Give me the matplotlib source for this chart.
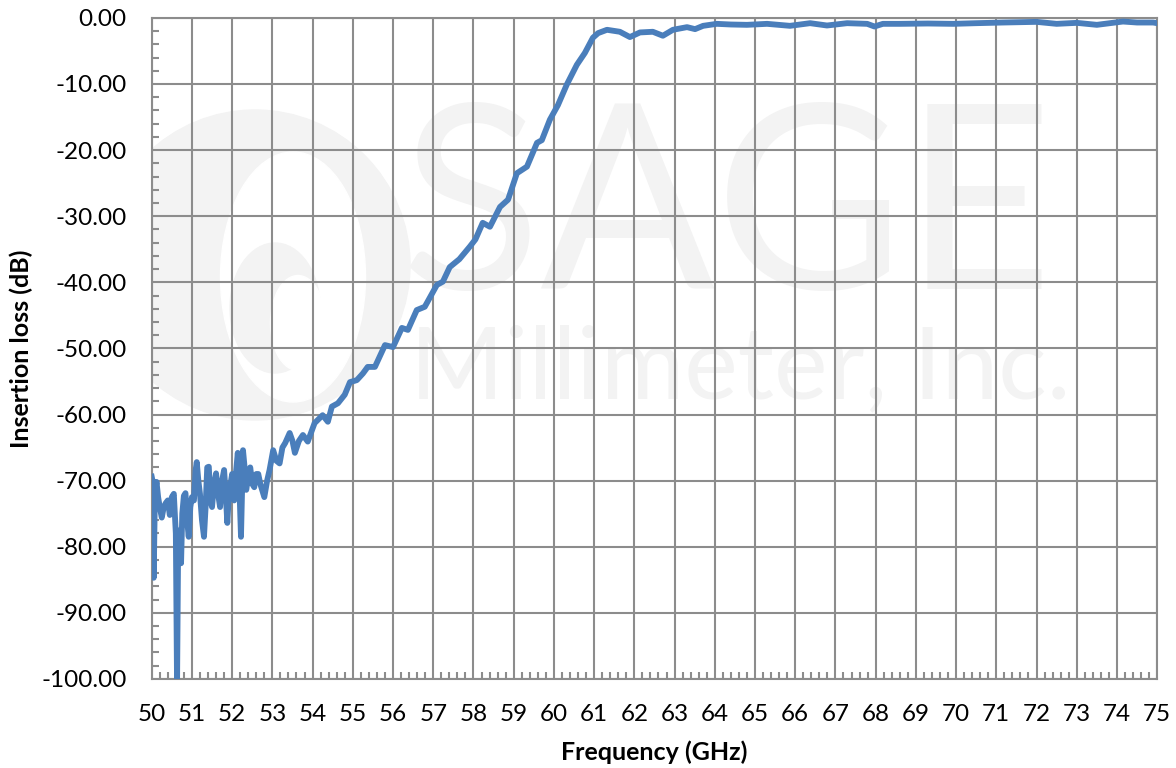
import matplotlib.pyplot as plt
from matplotlib.patches import Circle, Ellipse
from matplotlib.ticker import MultipleLocator, FormatStrFormatter

# -----------------------
# Data
# -----------------------
freq_ghz = [50.0, 50.02, 50.05, 50.08, 50.12, 50.16, 50.2, 50.25, 50.3, 50.35,
            50.4, 50.45, 50.5, 50.55, 50.6, 50.63, 50.66, 50.7, 50.73, 50.76,
            50.8, 50.84, 50.88, 50.92, 50.96, 51.0, 51.05, 51.09, 51.12, 51.16,
            51.2, 51.25, 51.3, 51.34, 51.38, 51.42, 51.46, 51.5, 51.55, 51.6,
            51.65, 51.7, 51.75, 51.8, 51.84, 51.88, 51.92, 51.96, 52.0, 52.05,
            52.1, 52.14, 52.18, 52.22, 52.27, 52.31, 52.35, 52.4, 52.45, 52.5,
            52.55, 52.6, 52.65, 52.7, 52.8, 52.87, 52.93, 53.02, 53.1, 53.18,
            53.25, 53.32, 53.38, 53.43, 53.5, 53.56, 53.66, 53.76, 53.88, 54.05,
            54.25, 54.38, 54.48, 54.63, 54.8, 54.93, 55.1, 55.25, 55.37, 55.55,
            55.8, 56.0, 56.22, 56.37, 56.59, 56.79, 57.09, 57.24, 57.41, 57.65,
            57.91, 58.05, 58.23, 58.41, 58.66, 58.86, 59.08, 59.33, 59.58, 59.7,
            59.9, 60.1, 60.32, 60.57, 60.77, 60.97, 61.1, 61.32, 61.64, 61.89,
            62.14, 62.46, 62.71, 62.96, 63.31, 63.51, 63.71, 64.05, 64.4, 64.8,
            65.3, 65.87, 66.37, 66.79, 67.29, 67.79, 67.97, 68.18, 68.6, 69.3,
            69.93, 70.5, 71.17, 72.0, 72.5, 73.0, 73.5, 74.15, 74.5, 74.9, 75.0]

loss_db = [-69.4, -70.0, -84.7, -72.0, -70.2, -72.5, -74.0, -75.6, -74.0, -73.4,
           -73.0, -75.2, -72.5, -72.0, -78.0, -101.0, -78.0, -77.5, -82.5, -75.0,
           -72.3, -71.9, -76.0, -78.5, -74.0, -72.5, -73.0, -68.5, -67.2, -70.0,
           -72.0, -76.0, -78.5, -74.0, -68.0, -67.9, -73.0, -74.0, -70.5, -68.9,
           -72.0, -74.0, -70.0, -68.4, -72.0, -76.4, -72.0, -70.5, -69.0, -73.0,
           -68.5, -65.8, -71.0, -78.5, -65.4, -68.0, -71.4, -69.5, -68.0, -70.5,
           -71.0, -69.0, -69.0, -70.5, -72.5, -70.0, -68.4, -65.4, -67.0, -67.4,
           -65.0, -64.3, -63.5, -62.8, -64.0, -65.8, -64.0, -63.1, -64.1, -61.3,
           -60.1, -61.1, -58.8, -58.3, -57.0, -55.1, -54.8, -53.8, -52.8, -52.8,
           -49.5, -49.8, -46.9, -47.2, -44.2, -43.7, -40.4, -39.9, -37.7, -36.5,
           -34.6, -33.5, -31.0, -31.6, -28.6, -27.5, -23.5, -22.5, -18.9, -18.5,
           -15.4, -13.2, -10.1, -7.1, -5.3, -3.0, -2.3, -1.8, -2.1, -2.9,
           -2.2, -2.1, -2.7, -1.8, -1.4, -1.7, -1.2, -0.9, -1.0, -1.05,
           -0.9, -1.2, -0.8, -1.15, -0.8, -0.9, -1.3, -0.9, -0.9, -0.85,
           -0.9, -0.8, -0.7, -0.6, -0.9, -0.75, -1.05, -0.55, -0.7, -0.7, -0.8]

x_ticks = list(range(50, 76))
y_ticks = list(range(-100, 1, 10))

GRID = "#8c8c8c"
LINE = "#4a7ebb"

plt.rcParams["font.family"] = ["Lato", "DejaVu Sans"]

fig = plt.figure(figsize=(11.76, 7.68), dpi=100)
ax = fig.add_axes([0.129, 0.116, 0.855, 0.8607])

# -----------------------
# Faint watermark (logo + company name)
# -----------------------
wm = "#f3f3f3"
inch = fig.dpi_scale_trans
ax.add_patch(Circle((2.55, 5.03), 1.55, transform=inch, color=wm, zorder=0))
ax.add_patch(Ellipse((2.93, 4.91), 1.45, 2.5, transform=inch, color="white", zorder=0.1))
ax.add_patch(Ellipse((2.75, 4.6), 0.9, 1.3, transform=inch, color=wm, zorder=0.2))
ax.add_patch(Ellipse((2.98, 4.45), 0.55, 0.95, transform=inch, color="white", zorder=0.25))
ax.text(0.572, 0.70, "SAGE", transform=ax.transAxes, ha="center", va="center",
        fontsize=186, color=wm, zorder=0.3)
ax.text(0.585, 0.467, "Millimeter, Inc.", transform=ax.transAxes, ha="center",
        va="center", fontsize=73, color=wm, zorder=0.3)

# -----------------------
# Curve
# -----------------------
ax.plot(freq_ghz, loss_db, color=LINE, lw=4.2, solid_joinstyle="round", zorder=3)

ax.set_xlim(50, 75)
ax.set_ylim(-100, 0)
ax.set_xticks(x_ticks)
ax.set_yticks(y_ticks)
ax.xaxis.set_minor_locator(MultipleLocator(0.2))
ax.yaxis.set_minor_locator(MultipleLocator(2))
ax.yaxis.set_major_formatter(FormatStrFormatter("%.2f"))

ax.grid(True, which="major", color=GRID, lw=1.5, zorder=1)
ax.set_axisbelow(True)
for s in ax.spines.values():
    s.set_color(GRID)
    s.set_linewidth(1.5)

ax.tick_params(which="major", length=0, labelsize=17.5, colors="black")
ax.tick_params(which="minor", direction="in", length=5, width=1.5, color=GRID)
ax.tick_params(axis="y", which="major", pad=18)
ax.tick_params(axis="x", which="major", pad=18)

ax.set_xlabel("Frequency (GHz)", fontsize=18, fontweight="bold", labelpad=11)
ax.set_ylabel("Insertion loss (dB)", fontsize=18, fontweight="bold", labelpad=6)

plt.savefig("out.png", dpi=100)
plt.close()
